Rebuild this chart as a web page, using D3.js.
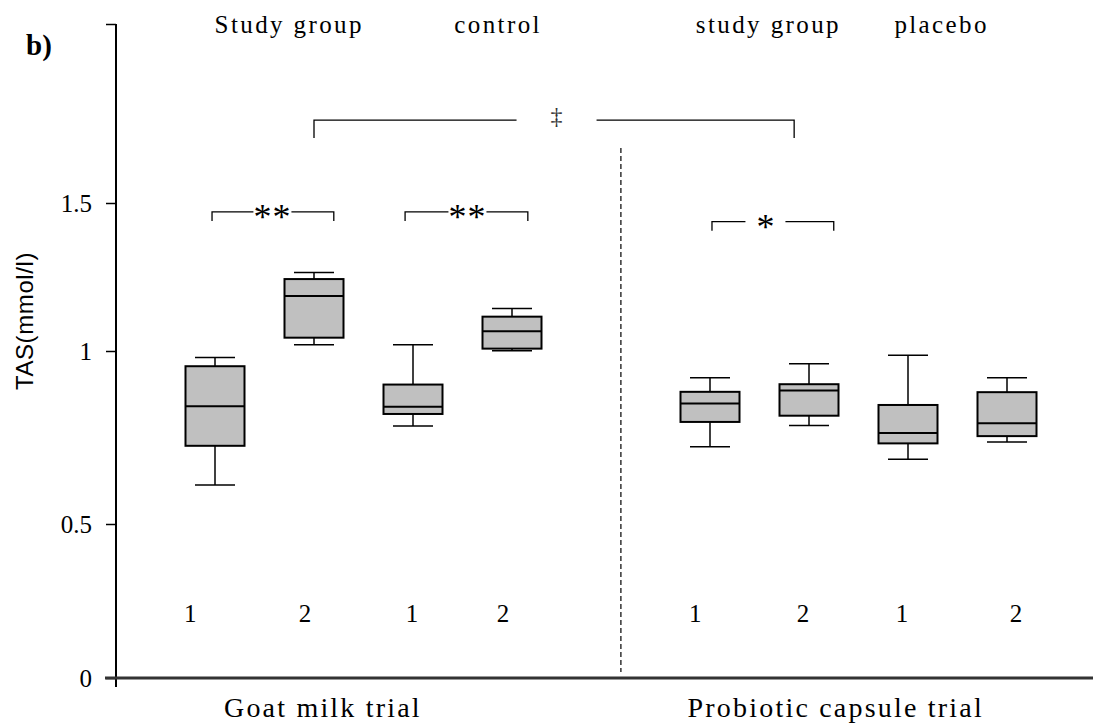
<!DOCTYPE html>
<html>
<head>
<meta charset="utf-8">
<script src="https://cdn.jsdelivr.net/npm/d3@7"></script>
<style>
  body { margin: 0; background: #fff; }
  svg { display: block; }
</style>
</head>
<body>
<svg id="chart"></svg>
<script>
// ===== DATA =====
const groupHeaders = ["Study group", "control", "study group", "placebo"];
const trialNames = ["Goat milk trial", "Probiotic capsule trial"];
const timepoints = ["1", "2", "1", "2", "1", "2", "1", "2"];

const whiskerLow  = [0.613, 1.021, 0.783, 1.001, 0.723, 0.785, 0.687, 0.737];
const quartile1   = [0.726, 1.045, 0.818, 1.008, 0.795, 0.813, 0.733, 0.754];
const medians     = [0.840, 1.186, 0.839, 1.067, 0.848, 0.886, 0.763, 0.791];
const quartile3   = [0.956, 1.243, 0.903, 1.116, 0.882, 0.904, 0.844, 0.881];
const whiskerHigh = [0.981, 1.265, 1.021, 1.144, 0.923, 0.963, 0.988, 0.923];

const yTicks = [0, 0.5, 1, 1.5];
const yTickLabels = ["0", "0.5", "1", "1.5"];

const sigLabels = ["**", "**", "*", "\u2021"];
const sigLevels = [1.47, 1.47, 1.437, 1.778];

// ===== LAYOUT (slot units: boxes sit at 0-3 and 5-8) =====
const boxSlots = [0, 1, 2, 3, 5, 6, 7, 8];
const headerSlots = [0.75, 2.86, 5.59, 7.34];
const trialSlots = [1.09, 6.27];
const timepointSlots = [-0.25, 0.91, 1.99, 2.91, 4.85, 5.94, 6.94, 8.09];
const sigSpans = [[-0.03, 1.2, 0.58], [1.92, 3.16, 2.55], [5.02, 6.25, 5.56], [1.0, 5.85, 3.45]];
const sigGaps = [19, 19, 20, 40];
const sigDrops = [9, 9, 9, 18];
const dividerSlot = 4.1;

const width = 1093;
const height = 728;
const serif = "'Liberation Serif', 'Times New Roman', serif";

const svg = d3.select("#chart")
  .attr("width", width)
  .attr("height", height);

const x = d3.scaleLinear()
  .domain([-1, 8])
  .range([116, 1007]);

// the printed axis is not evenly spaced, so a piecewise scale follows its ticks
const y = d3.scaleLinear()
  .domain([0, 0.5, 1, 1.5, 2.1])
  .range([678, 524, 351, 203, 24]);

const boxWidth = 59;
const capWidth = 40;

// ===== AXES =====
const yAxis = svg.append("g")
  .attr("transform", `translate(${x(-1)},0)`)
  .call(d3.axisLeft(y)
    .tickValues([...yTicks, 2.1])
    .tickFormat(d => {
      const i = yTicks.indexOf(d);
      return i < 0 ? "" : yTickLabels[i];
    })
    .tickSize(10)
    .tickPadding(14));

yAxis.select(".domain").remove();
yAxis.selectAll(".tick line")
  .attr("stroke", "#000")
  .attr("stroke-width", 1.5);
yAxis.selectAll(".tick text")
  .style("font-family", serif)
  .style("font-size", "25px")
  .attr("fill", "#000");

svg.append("line")
  .attr("x1", x(-1))
  .attr("x2", x(-1))
  .attr("y1", y(2.1))
  .attr("y2", y(0) + 9)
  .attr("stroke", "#000")
  .attr("stroke-width", 2);

svg.append("line")
  .attr("x1", x(-1) - 11)
  .attr("x2", width)
  .attr("y1", y(0))
  .attr("y2", y(0))
  .attr("stroke", "#333")
  .attr("stroke-width", 3);

svg.append("text")
  .attr("transform", `translate(33,${(y(1) + y(1.5)) / 2 + 44}) rotate(-90)`)
  .attr("text-anchor", "middle")
  .attr("font-family", "'Liberation Sans', Arial, sans-serif")
  .attr("font-size", 24)
  .attr("letter-spacing", 0.6)
  .text("TAS(mmol/l)");

svg.append("text")
  .attr("x", 26)
  .attr("y", 55)
  .attr("font-family", serif)
  .attr("font-weight", 700)
  .attr("font-size", 29)
  .text("b)");

// ===== DIVIDER =====
svg.append("line")
  .attr("x1", x(dividerSlot))
  .attr("x2", x(dividerSlot))
  .attr("y1", 148)
  .attr("y2", y(0) - 6)
  .attr("stroke", "#000")
  .attr("stroke-width", 1.2)
  .attr("stroke-dasharray", "5,3");

// ===== BOXES =====
const boxes = boxSlots.map((s, i) => ({
  slot: s,
  lo: whiskerLow[i],
  q1: quartile1[i],
  med: medians[i],
  q3: quartile3[i],
  hi: whiskerHigh[i]
}));

const box = svg.append("g")
  .selectAll("g")
  .data(boxes)
  .enter()
  .append("g");

box.append("line")
  .attr("x1", d => x(d.slot))
  .attr("x2", d => x(d.slot))
  .attr("y1", d => y(d.hi))
  .attr("y2", d => y(d.lo))
  .attr("stroke", "#000")
  .attr("stroke-width", 1.5);

box.append("line")
  .attr("x1", d => x(d.slot) - capWidth / 2)
  .attr("x2", d => x(d.slot) + capWidth / 2)
  .attr("y1", d => y(d.hi))
  .attr("y2", d => y(d.hi))
  .attr("stroke", "#000")
  .attr("stroke-width", 1.5);

box.append("line")
  .attr("x1", d => x(d.slot) - capWidth / 2)
  .attr("x2", d => x(d.slot) + capWidth / 2)
  .attr("y1", d => y(d.lo))
  .attr("y2", d => y(d.lo))
  .attr("stroke", "#000")
  .attr("stroke-width", 1.5);

box.append("rect")
  .attr("x", d => x(d.slot) - boxWidth / 2)
  .attr("y", d => y(d.q3))
  .attr("width", boxWidth)
  .attr("height", d => y(d.q1) - y(d.q3))
  .attr("fill", "#c0c0c0")
  .attr("stroke", "#000")
  .attr("stroke-width", 2);

box.append("line")
  .attr("x1", d => x(d.slot) - boxWidth / 2)
  .attr("x2", d => x(d.slot) + boxWidth / 2)
  .attr("y1", d => y(d.med))
  .attr("y2", d => y(d.med))
  .attr("stroke", "#000")
  .attr("stroke-width", 2);

// ===== SIGNIFICANCE BRACKETS =====
sigLabels.forEach((label, i) => {
  const [a, b, c] = sigSpans[i];
  const yy = y(sigLevels[i]);
  const dagger = label === "\u2021";
  const g = svg.append("g")
    .attr("fill", "none")
    .attr("stroke", "#000")
    .attr("stroke-width", 1.3);

  g.append("path")
    .attr("d", `M${x(a)},${yy + sigDrops[i]}V${yy}H${x(c) - sigGaps[i]}`);
  g.append("path")
    .attr("d", `M${x(c) + sigGaps[i]},${yy}H${x(b)}V${yy + sigDrops[i]}`);

  svg.append("text")
    .attr("x", x(c))
    .attr("y", dagger ? yy + 4 : yy + 17)
    .attr("text-anchor", "middle")
    .attr("font-family", serif)
    .attr("font-size", dagger ? 24 : 36)
    .attr("letter-spacing", label === "**" ? 1 : 0)
    .attr("fill", dagger ? "#333" : "#000")
    .text(label);
});

// ===== LABELS =====
svg.append("g")
  .selectAll("text")
  .data(groupHeaders)
  .enter()
  .append("text")
  .attr("x", (d, i) => x(headerSlots[i]))
  .attr("y", 33)
  .attr("text-anchor", "middle")
  .attr("font-family", serif)
  .attr("font-size", 25)
  .attr("letter-spacing", 2.4)
  .text(d => d);

svg.append("g")
  .selectAll("text")
  .data(timepoints)
  .enter()
  .append("text")
  .attr("x", (d, i) => x(timepointSlots[i]))
  .attr("y", 622)
  .attr("text-anchor", "middle")
  .attr("font-family", serif)
  .attr("font-size", 25)
  .text(d => d);

svg.append("g")
  .selectAll("text")
  .data(trialNames)
  .enter()
  .append("text")
  .attr("x", (d, i) => x(trialSlots[i]))
  .attr("y", 717)
  .attr("text-anchor", "middle")
  .attr("font-family", serif)
  .attr("font-size", 28)
  .attr("letter-spacing", 2.2)
  .text(d => d);
</script>
</body>
</html>
